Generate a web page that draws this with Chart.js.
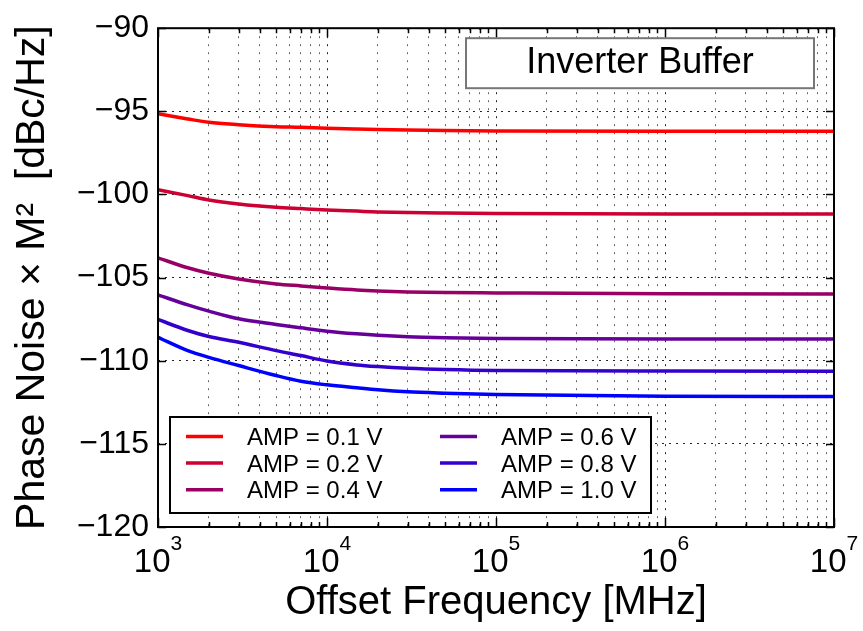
<!DOCTYPE html>
<html>
<head>
<meta charset="utf-8">
<script src="https://cdn.jsdelivr.net/npm/chart.js@4.4.0/dist/chart.umd.min.js"></script>
<style>
  html, body { margin: 0; padding: 0; background: #fff; }
  canvas { display: block; }
</style>
</head>
<body>
<canvas id="myChart" width="863" height="631"></canvas>
<script>
// data
var offsetFreq = [1e3, 1.5e3, 2e3, 3e3, 5e3, 7e3, 1e4, 1.5e4, 2e4, 3e4, 5e4, 1e5, 1e6, 1e7];
var amp01 = [-95.15, -95.46, -95.66, -95.80, -95.92, -95.96, -96.02, -96.07, -96.10, -96.13, -96.16, -96.18, -96.20, -96.20];
var amp02 = [-99.72, -100.07, -100.33, -100.57, -100.77, -100.85, -100.93, -101.00, -101.05, -101.09, -101.12, -101.15, -101.18, -101.18];
var amp04 = [-103.81, -104.41, -104.74, -105.08, -105.38, -105.50, -105.62, -105.74, -105.80, -105.86, -105.90, -105.92, -105.97, -105.98];
var amp06 = [-106.04, -106.64, -107.02, -107.48, -107.82, -108.02, -108.22, -108.38, -108.47, -108.56, -108.62, -108.66, -108.69, -108.69];
var amp08 = [-107.52, -108.18, -108.54, -108.89, -109.39, -109.69, -110.02, -110.25, -110.35, -110.45, -110.53, -110.59, -110.62, -110.63];
var amp10 = [-108.59, -109.39, -109.80, -110.29, -110.89, -111.23, -111.45, -111.63, -111.75, -111.87, -111.95, -112.03, -112.13, -112.15];

var seriesLabels = ['AMP = 0.1 V', 'AMP = 0.2 V', 'AMP = 0.4 V', 'AMP = 0.6 V', 'AMP = 0.8 V', 'AMP = 1.0 V'];
var seriesColors = ['#ff0000', '#cc0033', '#990066', '#660099', '#3300cc', '#0000ff'];
var yTickValues = [-120, -115, -110, -105, -100, -95, -90];
var xDecades = [3, 4, 5, 6, 7];

var FONT = '"Liberation Sans", Arial, Helvetica, sans-serif';
Chart.defaults.font.family = FONT;
Chart.defaults.color = '#000';

var allSeries = [amp01, amp02, amp04, amp06, amp08, amp10];

var datasets = allSeries.map(function(vals, i) {
  return {
    label: seriesLabels[i],
    data: offsetFreq.map(function(f, j) { return { x: f, y: vals[j] }; }),
    borderColor: seriesColors[i],
    backgroundColor: seriesColors[i],
    borderWidth: 3.5,
    pointRadius: 0,
    fill: false,
    cubicInterpolationMode: 'monotone'
  };
});

function isDecade(v) {
  var l = Math.log10(v);
  return Math.abs(l - Math.round(l)) < 1e-9;
}

// frame, inward ticks, legend box and the title box
var decorPlugin = {
  id: 'decor',
  afterDatasetsDraw: function(chart) {
    var ctx = chart.ctx;
    var a = chart.chartArea;
    var xs = chart.scales.x, ys = chart.scales.y;
    ctx.save();
    ctx.strokeStyle = '#000';
    ctx.lineWidth = 1.5;
    ctx.beginPath();
    ys.ticks.forEach(function(t) {
      var py = Math.round(ys.getPixelForValue(t.value)) + 0.5;
      ctx.moveTo(a.left, py); ctx.lineTo(a.left + 8, py);
      ctx.moveTo(a.right - 8, py); ctx.lineTo(a.right, py);
    });
    xs.ticks.forEach(function(t) {
      var px = Math.round(xs.getPixelForValue(t.value)) + 0.5;
      var len = isDecade(t.value) ? 9 : 5;
      ctx.moveTo(px, a.bottom); ctx.lineTo(px, a.bottom - len);
      ctx.moveTo(px, a.top); ctx.lineTo(px, a.top + len);
    });
    ctx.stroke();

    // plot frame
    ctx.lineWidth = 2;
    ctx.strokeRect(a.left, a.top, a.right - a.left, a.bottom - a.top);

    // legend (two columns, filled column first)
    var lx = a.left + 12, ly = a.bottom - 110, lw = 481, lh = 96;
    ctx.fillStyle = '#fff';
    ctx.fillRect(lx, ly, lw, lh);
    ctx.lineWidth = 2;
    ctx.strokeStyle = '#000';
    ctx.strokeRect(lx, ly, lw, lh);
    ctx.font = '24px ' + FONT;
    ctx.textAlign = 'left';
    ctx.textBaseline = 'alphabetic';
    chart.data.datasets.forEach(function(ds, i) {
      var col = Math.floor(i / 3), row = i % 3;
      var base = ly + 28 + row * 26.6;
      var x0 = lx + 16 + col * 254;
      ctx.strokeStyle = ds.borderColor;
      ctx.lineWidth = 3.5;
      ctx.beginPath();
      ctx.moveTo(x0, base - 8.5);
      ctx.lineTo(x0 + 37, base - 8.5);
      ctx.stroke();
      ctx.fillStyle = '#000';
      ctx.fillText(ds.label, x0 + 61, base);
    });

    // title box
    var bw = 348, bh = 50;
    var bx = a.right - 20 - bw, by = a.top + 10;
    ctx.fillStyle = '#fff';
    ctx.fillRect(bx, by, bw, bh);
    ctx.strokeStyle = '#777';
    ctx.lineWidth = 2;
    ctx.strokeRect(bx, by, bw, bh);
    ctx.fillStyle = '#000';
    ctx.font = '36px ' + FONT;
    ctx.textAlign = 'center';
    ctx.fillText('Inverter Buffer', bx + bw / 2, by + 35);
    ctx.restore();
  },
  afterDraw: function(chart) {
    // x tick labels as 10 with a superscript exponent
    var ctx = chart.ctx;
    var xs = chart.scales.x;
    ctx.save();
    ctx.fillStyle = '#000';
    ctx.textAlign = 'left';
    ctx.textBaseline = 'alphabetic';
    xDecades.forEach(function(d) {
      var px = xs.getPixelForValue(Math.pow(10, d));
      ctx.font = '33px ' + FONT;
      var wb = ctx.measureText('10').width;
      ctx.font = '21px ' + FONT;
      var we = ctx.measureText(String(d)).width;
      var start = px - (wb + we) / 2;
      ctx.font = '33px ' + FONT;
      ctx.fillText('10', start, 572);
      ctx.font = '21px ' + FONT;
      ctx.fillText(String(d), start + wb, 550);
    });
    ctx.restore();
  }
};

var ctx = document.getElementById('myChart').getContext('2d');
var myChart = new Chart(ctx, {
  type: 'line',
  data: { datasets: datasets },
  plugins: [decorPlugin],
  options: {
    responsive: false,
    devicePixelRatio: 1,
    animation: false,
    layout: { padding: { top: 28, right: 29, bottom: 0, left: 0 } },
    plugins: {
      legend: { display: false },
      tooltip: { enabled: false },
      title: { display: false }
    },
    scales: {
      x: {
        type: 'logarithmic',
        position: 'bottom',
        min: 1e3,
        max: 1e7,
        afterBuildTicks: function(scale) {
          var t = [];
          for (var d = 3; d < 7; d++) {
            for (var k = 1; k <= 9; k++) t.push({ value: k * Math.pow(10, d) });
          }
          t.push({ value: 1e7 });
          scale.ticks = t;
        },
        afterFit: function(scale) { scale.height = 104; },
        ticks: { display: false },
        grid: {
          drawTicks: false,
          lineWidth: 1,
          color: function(c) {
            return c.tick && isDecade(c.tick.value) ? 'rgba(0,0,0,0.85)' : 'rgba(0,0,0,0.6)';
          }
        },
        border: { display: false, dash: [2, 6] },
        title: {
          display: true,
          text: 'Offset Frequency [MHz]',
          font: { size: 40 },
          color: '#000',
          padding: { top: 0, bottom: 4 }
        }
      },
      y: {
        type: 'linear',
        min: -120,
        max: -90,
        afterBuildTicks: function(scale) {
          scale.ticks = yTickValues.map(function(v) { return { value: v }; });
        },
        afterFit: function(scale) { scale.width = 158; },
        ticks: {
          font: { size: 32 },
          color: '#000',
          padding: 9,
          callback: function(v) { return v < 0 ? '\u2212' + Math.abs(v) : String(v); }
        },
        grid: { drawTicks: false, lineWidth: 1, color: 'rgba(0,0,0,0.85)' },
        border: { display: false, dash: [2, 5] },
        title: {
          display: true,
          text: 'Phase Noise \u00d7 M\u00b2  [dBc/Hz]',
          font: { size: 41 },
          color: '#000',
          padding: { top: 8, bottom: 0 }
        }
      }
    }
  }
});
</script>
</body>
</html>
